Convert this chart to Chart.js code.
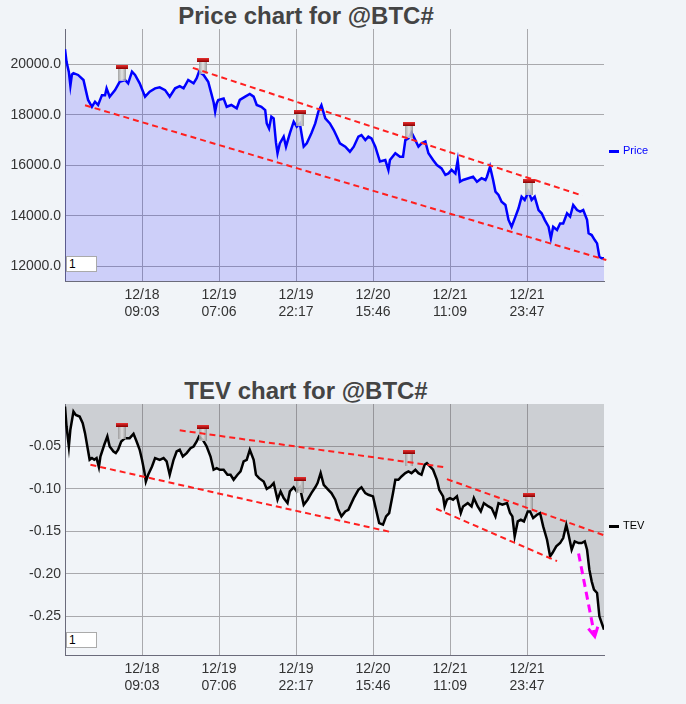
<!DOCTYPE html>
<html>
<head>
<meta charset="utf-8">
<script src="https://cdn.jsdelivr.net/npm/chart.js@4.4.1/dist/chart.umd.min.js"></script>
<style>
  html, body { margin: 0; padding: 0; background: #f1f4f8; }
  #page { position: relative; width: 686px; height: 704px; overflow: hidden; font-family: "Liberation Sans", Arial, sans-serif; }
  canvas { position: absolute; left: 0; }
  .title { position: absolute; left: 0; width: 612px; text-align: center; font-weight: bold; font-size: 24px; line-height: 24px; color: #444; }
  .legend { position: absolute; left: 609px; font-size: 11px; line-height: 12px; white-space: nowrap; }
  .legend i { display: inline-block; width: 10px; height: 3px; vertical-align: middle; margin-right: 4px; }
  .box { position: absolute; left: 66px; width: 31px; height: 16px; box-sizing: border-box; background: #fff; border: 1px solid #aaa; font-size: 12px; line-height: 14px; padding-left: 2px; color: #000; }
</style>
</head>
<body>
<div id="page">
  <div class="title" style="top:4px">Price chart for @BTC#</div>
  <canvas id="priceChart" width="686" height="340" style="top:0"></canvas>
  <div class="legend" style="top:144px; color:#0000ff"><i style="background:#0000ff"></i>Price</div>
  <div class="box" style="top:256px">1</div>

  <div class="title" style="top:379px">TEV chart for @BTC#</div>
  <canvas id="tevChart" width="686" height="364" style="top:340px"></canvas>
  <div class="legend" style="top:519px; color:#000"><i style="background:#000"></i>TEV</div>
  <div class="box" style="top:632px">1</div>
</div>
<script>
// x axis runs over bar index 0..700, labels at every 100 bars
const xTickPos = [100, 200, 300, 400, 500, 600];
const xTickLabels = [
  ['12/18', '09:03'], ['12/19', '07:06'], ['12/19', '22:17'],
  ['12/20', '15:46'], ['12/21', '11:09'], ['12/21', '23:47']
];
const priceTicks = [12000, 14000, 16000, 18000, 20000];
const tevTicks = [-0.25, -0.20, -0.15, -0.10, -0.05];

// price series (bar index, price)
const priceBars = [
  0, 2, 5, 7, 9, 11, 17, 24, 27, 30, 35, 39, 43, 48, 52, 54, 58, 65, 71, 78,
  82, 87, 91, 97, 104, 110, 117, 123, 130, 136, 143, 149, 154, 160, 167, 171, 174, 180, 186, 190,
  193, 195, 197, 199, 206, 210, 216, 223, 227, 234, 240, 245, 249, 255, 260, 262, 265, 268, 271, 274,
  276, 279, 284, 287, 292, 297, 301, 305, 310, 314, 320, 325, 329, 333, 338, 344, 349, 353, 357, 364,
  370, 375, 381, 385, 390, 394, 398, 403, 409, 416, 420, 422, 429, 435, 439, 442, 446, 450, 455, 459,
  463, 468, 472, 478, 483, 489, 494, 498, 502, 507, 510, 513, 517, 524, 530, 535, 541, 546, 548, 552,
  556, 559, 563, 567, 572, 576, 580, 585, 589, 593, 597, 602, 606, 610, 615, 619, 623, 628, 631, 634,
  639, 643, 647, 652, 656, 660, 665, 669, 673, 678, 680, 684, 688, 691, 694, 697, 700
];
const priceValues = [
  20600, 20100, 19700, 19150, 19600, 19650, 19580, 19380, 18980, 18590, 18320, 18520, 18390, 18780, 18780, 19050, 18720, 18980, 19310, 19380,
  19250, 19710, 19580, 19250, 18720, 18920, 19050, 19090, 18980, 18720, 19050, 19140, 19050, 19380, 19250, 19450, 19710, 19580, 19310, 18850,
  18500, 18130, 18450, 18590, 18650, 18320, 18390, 18260, 18590, 18720, 18825, 18720, 18390, 18320, 18190, 17660, 17460, 17930, 17860, 16900,
  16480, 16870, 17140, 16740, 17270, 17730, 17530, 17660, 16740, 16870, 17270, 17660, 18130, 18380, 17860, 17660, 17400, 17140, 16870, 16740,
  16540, 16740, 17140, 17200, 17000, 17140, 17070, 16740, 16150, 16210, 15820, 16210, 16480, 16340, 16340, 17000, 17070, 17300, 17000, 16740,
  16870, 16940, 16480, 16210, 16010, 15880, 15620, 15680, 15820, 15680, 16200, 15350, 15420, 15490, 15550, 15350, 15490, 15420, 15550, 15950,
  15420, 14960, 14830, 14560, 14430, 13840, 13570, 13970, 14300, 14760, 14630, 14960, 14630, 14760, 14230, 14100, 13840, 13570, 13110, 13570,
  13440, 13700, 13700, 14100, 13970, 14430, 14230, 14170, 14230, 13840, 13310, 13240, 13040, 12910, 12380, 12320, 12320
];

// TEV series (bar index, value)
const tevBars = [
  0, 2, 5, 7, 11, 14, 19, 23, 26, 29, 32, 35, 38, 41, 44, 46, 51, 55, 58, 63,
  66, 69, 73, 78, 84, 89, 93, 97, 100, 103, 105, 108, 113, 117, 123, 128, 132, 136, 141, 145,
  149, 153, 158, 163, 167, 171, 174, 179, 184, 189, 193, 197, 201, 206, 211, 215, 219, 224, 228, 232,
  236, 240, 245, 248, 252, 258, 262, 267, 271, 276, 280, 284, 289, 292, 297, 301, 305, 310, 315, 320,
  325, 328, 332, 336, 342, 346, 351, 355, 359, 364, 368, 375, 381, 385, 390, 394, 400, 404, 408, 413,
  417, 421, 426, 429, 433, 437, 442, 446, 450, 455, 459, 463, 467, 470, 474, 478, 483, 486, 491, 493,
  496, 500, 504, 509, 514, 517, 523, 528, 531, 536, 540, 544, 550, 554, 559, 563, 568, 574, 578, 581,
  584, 588, 592, 596, 601, 604, 608, 613, 617, 621, 626, 630, 633, 638, 643, 647, 651, 654, 658, 662,
  667, 671, 675, 678, 681, 684, 687, 691, 694, 697, 700
];
const tevValues = [
  -0.003, -0.0265, -0.050, -0.030, -0.0088, -0.0128, -0.0147, -0.0226, -0.0343, -0.050, -0.0657, -0.0637, -0.0657, -0.0637, -0.0743, -0.0618, -0.048, -0.0382, -0.050, -0.0559,
  -0.0578, -0.0539, -0.0441, -0.0402, -0.0402, -0.0351, -0.0441, -0.0539, -0.0657, -0.0794, -0.0912, -0.0833, -0.0735, -0.0637, -0.0657, -0.0637, -0.0676, -0.0833, -0.0657, -0.0559,
  -0.0539, -0.0618, -0.0578, -0.052, -0.050, -0.0441, -0.0382, -0.0422, -0.050, -0.0618, -0.0774, -0.0755, -0.0774, -0.0774, -0.0833, -0.0833, -0.0892, -0.0833, -0.0794, -0.0676,
  -0.0657, -0.0539, -0.0657, -0.0833, -0.0873, -0.0912, -0.100, -0.0971, -0.0931, -0.1127, -0.1029, -0.1108, -0.1167, -0.1029, -0.098, -0.1029, -0.098, -0.1186, -0.1127, -0.1049,
  -0.098, -0.0931, -0.0814, -0.0951, -0.101, -0.1049, -0.1127, -0.1245, -0.1323, -0.1265, -0.1245, -0.1108, -0.101, -0.098, -0.1049, -0.1069, -0.1088, -0.1245, -0.1402, -0.1421,
  -0.1323, -0.1284, -0.1049, -0.0892, -0.0892, -0.0853, -0.0814, -0.0794, -0.0814, -0.0774, -0.0814, -0.0833, -0.0716, -0.0696, -0.0735, -0.0774, -0.0892, -0.101, -0.1088, -0.1206,
  -0.1127, -0.1108, -0.1127, -0.1088, -0.1284, -0.1206, -0.1167, -0.1206, -0.1108, -0.1206, -0.1265, -0.1167, -0.1206, -0.1225, -0.1323, -0.1167, -0.1186, -0.1167, -0.1284, -0.1323,
  -0.1559, -0.1382, -0.1363, -0.1382, -0.1265, -0.1265, -0.1343, -0.1304, -0.1284, -0.1441, -0.1598, -0.1794, -0.1755, -0.1676, -0.1637, -0.1578, -0.1421, -0.1539, -0.1716, -0.1617,
  -0.1637, -0.1637, -0.1617, -0.1716, -0.1951, -0.2088, -0.2186, -0.2225, -0.250, -0.2578, -0.2657
];

// drawn trend lines [bar1, value1, bar2, value2]
const priceTrends = [[26, 18380, 703, 12250], [166, 19860, 672, 14800]];
const tevTrends = [
  [33, -0.0715, 422, -0.1505], [149, -0.031, 494, -0.0745],
  [496, -0.0885, 703, -0.1555], [482, -0.1233, 639, -0.1850]
];
// signal icons [bar, value at top of icon]
const priceIcons = [[74, 19990], [179, 20270], [305, 18210], [447, 17715], [603, 15458]];
const tevIcons = [[74, -0.0227], [179, -0.0251], [305, -0.0856], [447, -0.0545], [603, -0.1050]];
// projected move arrow [bar1, value1, bar2, value2]
const tevArrow = [667, -0.1760, 688, -0.2735];

const FONT = '"Liberation Sans", Arial, sans-serif';

function toPoints(bars, values) {
  return bars.map((b, i) => ({ x: b, y: values[i] }));
}

function marksPlugin(trends, icons, arrow) {
  return {
    id: 'marks',
    afterDatasetsDraw(chart) {
      const ctx = chart.ctx;
      const x = chart.scales.x;
      const y = chart.scales.y;
      ctx.save();

      // signal icons
      icons.forEach(([b, v]) => {
        const px = Math.round(x.getPixelForValue(b));
        const py = Math.round(y.getPixelForValue(v));
        const shade = ctx.createLinearGradient(px - 4, 0, px + 4, 0);
        shade.addColorStop(0, 'rgba(150,150,150,0.85)');
        shade.addColorStop(0.5, 'rgba(225,225,225,0.85)');
        shade.addColorStop(1, 'rgba(140,140,140,0.85)');
        ctx.fillStyle = shade;
        ctx.fillRect(px - 4, py + 3, 8, 13);
        const cap = ctx.createLinearGradient(0, py, 0, py + 4);
        cap.addColorStop(0, '#e83030');
        cap.addColorStop(1, '#8a0000');
        ctx.fillStyle = cap;
        ctx.fillRect(px - 6, py, 12, 4);
      });

      // trend lines
      ctx.strokeStyle = '#ff1f1f';
      ctx.lineWidth = 2;
      ctx.setLineDash([6, 4]);
      trends.forEach(t => {
        ctx.beginPath();
        ctx.moveTo(x.getPixelForValue(t[0]), y.getPixelForValue(t[1]));
        ctx.lineTo(x.getPixelForValue(t[2]), y.getPixelForValue(t[3]));
        ctx.stroke();
      });

      if (arrow) {
        const x1 = x.getPixelForValue(arrow[0]);
        const y1 = y.getPixelForValue(arrow[1]);
        const x2 = x.getPixelForValue(arrow[2]);
        const y2 = y.getPixelForValue(arrow[3]);
        ctx.strokeStyle = '#ff00ff';
        ctx.lineWidth = 3;
        ctx.setLineDash([8, 5]);
        ctx.beginPath();
        ctx.moveTo(x1, y1);
        ctx.lineTo(x2, y2);
        ctx.stroke();
        const ang = Math.atan2(y2 - y1, x2 - x1);
        ctx.setLineDash([]);
        ctx.beginPath();
        ctx.moveTo(x2 - 10 * Math.cos(ang - 0.5), y2 - 10 * Math.sin(ang - 0.5));
        ctx.lineTo(x2, y2);
        ctx.lineTo(x2 - 10 * Math.cos(ang + 0.5), y2 - 10 * Math.sin(ang + 0.5));
        ctx.stroke();
      }
      ctx.restore();
    }
  };
}

function makeChart(id, cfg) {
  return new Chart(document.getElementById(id), {
    type: 'line',
    data: {
      datasets: [{
        label: cfg.label,
        data: cfg.points,
        borderColor: cfg.lineColor,
        borderWidth: 2.5,
        backgroundColor: cfg.fillColor,
        fill: cfg.fill,
        pointRadius: 0,
        tension: 0
      }]
    },
    options: {
      responsive: false,
      animation: false,
      layout: { padding: { top: cfg.top, right: 82, left: 0, bottom: 0 } },
      plugins: {
        legend: { display: false },
        title: { display: false },
        tooltip: { enabled: false }
      },
      scales: {
        x: {
          type: 'linear',
          min: 0,
          max: 700,
          afterBuildTicks: s => { s.ticks = xTickPos.map(v => ({ value: v })); },
          afterFit: s => { s.height = cfg.xHeight; },
          grid: { color: '#a9a9ad', drawTicks: false },
          border: { color: '#6b6b7b', width: 1 },
          ticks: {
            autoSkip: false,
            maxRotation: 0,
            padding: 6,
            color: '#333',
            font: { family: FONT, size: 14 },
            callback: v => xTickLabels[xTickPos.indexOf(v)]
          }
        },
        y: {
          min: cfg.min,
          max: cfg.max,
          afterBuildTicks: s => { s.ticks = cfg.ticks.map(v => ({ value: v })); },
          afterFit: s => { s.width = 65; },
          grid: { color: '#a9a9ad', drawTicks: false },
          border: { color: '#6b6b7b', width: 1 },
          ticks: {
            padding: 4,
            color: '#333',
            font: { family: FONT, size: 14 },
            callback: v => v.toFixed(cfg.digits)
          }
        }
      }
    },
    plugins: [marksPlugin(cfg.trends, cfg.icons, cfg.arrow)]
  });
}

makeChart('priceChart', {
  label: 'Price',
  points: toPoints(priceBars, priceValues),
  lineColor: '#0000ff',
  fillColor: 'rgba(0, 0, 255, 0.15)',
  fill: 'start',
  top: 29,
  xHeight: 59,
  min: 11420,
  max: 21400,
  ticks: priceTicks,
  digits: 1,
  trends: priceTrends,
  icons: priceIcons,
  arrow: null
});

makeChart('tevChart', {
  label: 'TEV',
  points: toPoints(tevBars, tevValues),
  lineColor: '#000000',
  fillColor: 'rgba(95, 95, 100, 0.25)',
  fill: 'end',
  top: 64,
  xHeight: 49,
  min: -0.2955,
  max: 0,
  ticks: tevTicks,
  digits: 2,
  trends: tevTrends,
  icons: tevIcons,
  arrow: tevArrow
});
</script>
</body>
</html>
